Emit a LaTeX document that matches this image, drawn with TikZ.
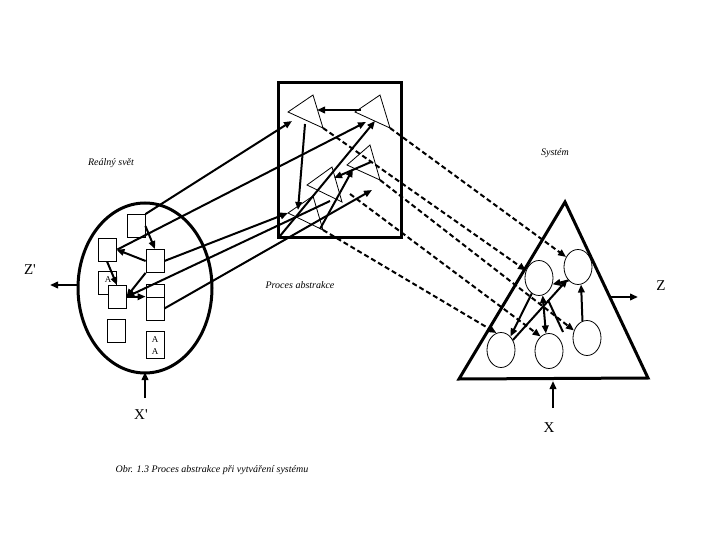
\documentclass[tikz,border=0pt]{standalone}
\usepackage{fontspec}
\setmainfont{Liberation Serif}
\usetikzlibrary{arrows.meta,shapes.geometric}
\begin{document}
\begin{tikzpicture}[x=1pt,y=-1pt,
  heavy/.style={line width=3pt},
  conn/.style={line width=2pt,-{Triangle[length=8pt,width=6.5pt]}},
  dconn/.style={conn,dash pattern=on 5pt off 3pt},
  fine/.style={line width=0.8pt},
  smallbox/.style={draw,fine,fill=white,rectangle,minimum width=18pt,minimum height=23pt,inner sep=0pt},
  circ/.style={draw,fine,ellipse,minimum width=28pt,minimum height=35pt,inner sep=0pt},
  note/.style={font=\fontsize{10}{11}\selectfont\itshape,inner sep=0pt},
  big/.style={font=\fontsize{15}{17}\selectfont,inner sep=0pt},
  tiny/.style={font=\fontsize{9}{10}\selectfont,inner sep=0pt}]
\fill[white] (0,0) rectangle (720,540);
\useasboundingbox (0,0) rectangle (720,540);

% ---------- left: real world ----------
\draw[heavy] (145,288) ellipse [x radius=67, y radius=85];
\node[smallbox] (b1) at (136,226) {};
\node[smallbox] (b2) at (107,249.5) {};
\node[smallbox] (b3) at (155,261) {};
\node[smallbox] (b4) at (107,282.5) {};
\node[tiny] (a1) at (108,280) {A};
\node[smallbox] (b5) at (117,297) {};
\node[smallbox] (b6x) at (155,295.5) {};
\node[smallbox] (b6) at (155,308.5) {};
\node[smallbox] (b7) at (116.5,330.5) {};
\node[smallbox,minimum height=27pt] (b8) at (155,344.5) {};
\node[tiny] (a2) at (155,340) {A};
\node[tiny] (a3) at (155,352) {A};

\draw[conn] (b1.east) -- (b3.north);
\draw[conn] (b3.west) -- (b2.east);
\draw[conn] (b2.south) -- (b5.north);
\draw[conn] (b3.south west) -- (b5.east);
\draw[conn] (b5.east) -- (b6.north west);

% ---------- middle: abstraction box ----------
\draw[heavy] (278,83) rectangle (401,237);
\coordinate (t1a) at (288,112); \coordinate (t1b) at (313,95); \coordinate (t1c) at (323,128);
\coordinate (t2a) at (355,112); \coordinate (t2b) at (380,95); \coordinate (t2c) at (390,128);
\coordinate (t3a) at (347,165); \coordinate (t3b) at (370,145); \coordinate (t3c) at (380,180);
\coordinate (t4a) at (307,185); \coordinate (t4b) at (332,167); \coordinate (t4c) at (342,202);
\coordinate (t5a) at (288,213); \coordinate (t5b) at (313,196); \coordinate (t5c) at (323,230);
\foreach \t in {t1,t2,t3,t4,t5}
  \draw[fine] (\t a) -- (\t b) -- (\t c) -- cycle;

\coordinate (corner) at (280,236);
\coordinate (p1) at (292,121);
\coordinate (p2) at (366,122);
\coordinate (p3) at (288,213);
\coordinate (p4) at (330,201);
\coordinate (p5) at (372,190);
\coordinate (q1) at (361,110); \coordinate (q2) at (317,110);
\coordinate (q3) at (305,124); \coordinate (q4) at (298,210);
\coordinate (q5) at (375,121);
\coordinate (q6) at (320,229); \coordinate (q7) at (353,169);
\coordinate (q8) at (371,162); \coordinate (q9) at (334,178);

\draw[conn] (q1) -- (q2);
\draw[conn] (q3) -- (q4);
\draw[conn] (corner) -- (q5);
\draw[conn] (q6) -- (q7);
\draw[conn] (q8) -- (q9);

\draw[conn] (b1.north east) -- (p1);
\draw[conn] ([xshift=1pt]b2.east) -- (p2);
\draw[conn] (b3.east) -- (p3);
\draw[conn] (p4) -- (b5.east);
\draw[conn] (b6.east) -- (p5);

% ---------- right: system ----------
\coordinate (apex) at (565,202);
\coordinate (bl) at (459,379);
\coordinate (br) at (648,378);
\draw[heavy] (apex) -- (bl) -- (br) -- cycle;
\node[circ] (c1) at (539,278) {};
\node[circ] (c2) at (578,267) {};
\node[circ] (c3) at (501,350) {};
\node[circ] (c4) at (549,351) {};
\node[circ] (c5) at (587,338) {};

\draw[conn] (c5.105) -- (c2.-80);
\draw[conn] (c2.235) -- (c1.-25);
\draw[conn] (c3.40) -- (c2.230);
\draw[conn] (c1.-115) -- (c3.55);
\draw[line width=2pt,{Triangle[length=8pt,width=6.5pt]}-{Triangle[length=8pt,width=6.5pt]}] (c1.-78) -- (c4.100);
\coordinate (r1) at (548,300); \coordinate (r2) at (563,332);
\draw[line width=2pt] (r1) -- (r2);

% dashed abstraction links
\coordinate (d4) at (350,194);
\draw[dconn] (t2c) -- (c2.140);
\draw[dconn] (t1c) -- (c1.150);
\draw[dconn] (t3c) -- (c5.150);
\draw[dconn] (d4) -- (c4.120);
\draw[dconn] (t5c) -- (c3.105);

% ---------- inputs and outputs ----------
\coordinate (zs) at (611,297); \coordinate (ze) at (638,297);
\draw[conn] (zs) -- (ze);
\node[big] (z) at (661,286) {Z};
\coordinate (xs) at (553,408); \coordinate (xe) at (553,381);
\draw[conn] (xs) -- (xe);
\node[big] (x) at (549,428) {X};
\coordinate (zps) at (78,285); \coordinate (zpe) at (50,285);
\draw[conn] (zps) -- (zpe);
\node[big] (zp) at (30,270) {Z\textquotesingle};
\coordinate (xps) at (145,398); \coordinate (xpe) at (145,372);
\draw[conn] (xps) -- (xpe);
\node[big] (xp) at (141,415) {X\textquotesingle};

% ---------- labels ----------
\node[note] (lreal) at (111,163) {Reálný svět};
\node[note] (lproc) at (300,285) {Proces abstrakce};
\node[note] (lsys) at (555,153) {Systém};
\node[note] (lcap) at (212,470) {Obr. 1.3 Proces abstrakce při vytváření systému};
\end{tikzpicture}
\end{document}
